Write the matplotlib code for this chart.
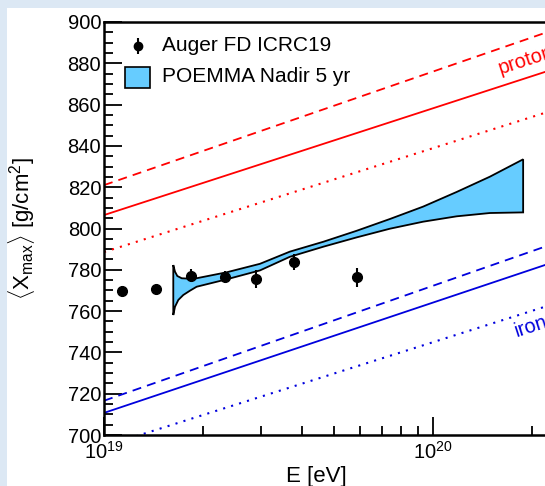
import numpy as np
import matplotlib
matplotlib.use("Agg")
import matplotlib.pyplot as plt
from matplotlib.patches import Rectangle
from matplotlib.ticker import MultipleLocator, FixedLocator, NullFormatter

plt.rcParams['font.family'] = ['Liberation Sans', 'DejaVu Sans']
plt.rcParams['mathtext.fontset'] = 'custom'
plt.rcParams['mathtext.rm'] = 'Liberation Sans'
plt.rcParams['mathtext.it'] = 'Liberation Sans'

#---------DATA----------
# Auger FD ICRC19 points (lg E, <Xmax>, error)
auger_lgE = [19.054, 19.158, 19.264, 19.369, 19.463, 19.579, 19.768]
auger_xmax = [769.9, 770.6, 777.1, 776.4, 775.7, 783.8, 776.4]
auger_err = [2.4, 2.2, 3.2, 2.8, 4.4, 4.0, 4.7]

# POEMMA Nadir 5 yr band edges
band_hi_lgE = [19.2106, 19.2158, 19.2228, 19.2362, 19.2716, 19.373, 19.474,
               19.565, 19.667, 19.768, 19.869, 19.970, 20.072, 20.173, 20.274]
band_hi = [782.3, 779.1, 777.0, 775.9, 775.6, 778.8, 782.9,
           788.8, 793.6, 798.9, 804.6, 810.6, 817.7, 825.1, 833.5]
band_lo_lgE = [19.2106, 19.2158, 19.2259, 19.2410, 19.2614, 19.2816, 19.373,
               19.474, 19.565, 19.667, 19.768, 19.869, 19.970, 20.072, 20.173, 20.274]
band_lo = [758.1, 762.1, 765.4, 767.8, 769.9, 771.8, 775.4,
           779.7, 786.3, 791.2, 795.7, 799.9, 803.3, 805.9, 807.5, 807.8]

# model lines: value at 10^19 eV and at 10^20.34 eV
line_lgE = [19.0, 20.34]
proton_solid = [806.5, 875.8]
proton_dashed = [821.0, 894.7]
proton_dotted = [788.6, 856.0]
iron_solid = [710.7, 782.3]
iron_dashed = [716.6, 791.2]
iron_dotted = [694.5, 762.1]

yticks = [700, 720, 740, 760, 780, 800, 820, 840, 860, 880, 900]

#---------PLOT----------
W, H = 545, 486
fig = plt.figure(figsize=(W/100., H/100.), dpi=100, facecolor="#dce8f4")
fig.patches.append(Rectangle((7./W, 0), 1, 1 - 8./H, transform=fig.transFigure,
                             facecolor="white", edgecolor="none", zorder=-10))

x0, x1 = 104, 104 + 1.5*329
y0, y1 = 435, 22
ax = fig.add_axes([x0/W, 1 - y0/H, (x1 - x0)/W, (y0 - y1)/H])
ax.set_facecolor("white")

E = lambda lg: 10**np.array(lg)

ax.plot(E(line_lgE), proton_solid, "-", color="red", lw=1.3)
ax.plot(E(line_lgE), proton_dashed, "--", color="red", lw=1.3, dashes=(5, 3.4))
ax.plot(E(line_lgE), proton_dotted, ":", color="red", lw=1.5, dashes=(1, 3))
ax.plot(E(line_lgE), iron_solid, "-", color="#0000dd", lw=1.3)
ax.plot(E(line_lgE), iron_dashed, "--", color="#0000dd", lw=1.3, dashes=(5, 3.4))
ax.plot(E(line_lgE), iron_dotted, ":", color="#0000dd", lw=1.5, dashes=(1, 3))

bx = np.concatenate([E(band_hi_lgE), E(band_lo_lgE)[::-1]])
by = np.concatenate([band_hi, band_lo[::-1]])
ax.fill(bx, by, facecolor="#66ccff", edgecolor="black", lw=1.3, zorder=3)

ax.errorbar(E(auger_lgE), auger_xmax, yerr=auger_err, fmt="o", color="black",
            ms=7, elinewidth=1.5, capsize=0, zorder=4)

ax.text(E(20.204), 874.5, "proton", color="red", fontsize=14.5, rotation=18,
        ha="left", va="baseline", rotation_mode="anchor")
ax.text(E(20.254), 747.6, "iron", color="#0000dd", fontsize=14.5, rotation=18,
        ha="left", va="baseline", rotation_mode="anchor")

ax.set_xscale("log")
ax.set_xlim(1e19, 10**20.5)
ax.set_ylim(700, 900)
ax.set_yticks(yticks)
ax.yaxis.set_minor_locator(MultipleLocator(5))
ax.xaxis.set_major_locator(FixedLocator([1e19, 1e20]))
ax.xaxis.set_minor_locator(FixedLocator([k*1e19 for k in range(2, 10)] + [2e20, 3e20]))
ax.xaxis.set_minor_formatter(NullFormatter())
ax.set_xticklabels([r"$10^{19}$", r"$10^{20}$"])

ax.tick_params(which="both", direction="in", width=1.3, labelsize=14.5)
ax.tick_params(which="major", length=13)
ax.tick_params(which="minor", length=6.5)
ax.tick_params(axis="y", pad=2)
ax.tick_params(axis="x", pad=4)
for s in ax.spines.values():
    s.set_linewidth(1.8)

ax.set_xlabel("E [eV]", fontsize=16)
ax.xaxis.set_label_coords(0.43, -0.075)
ax.set_ylabel(r"$\langle\mathrm{X}_{\mathrm{max}}\rangle$ [g/cm$^{2}$]", fontsize=16)
ax.yaxis.set_label_coords(-0.135, 0.5)

# legend
ax.errorbar([E(19.103)], [888.4], yerr=[4.0], fmt="o", color="black", ms=6,
            elinewidth=1.5, capsize=0, zorder=5)
ax.text(E(19.176), 888.4, "Auger FD ICRC19", fontsize=15, va="center", ha="left")
ax.add_patch(Rectangle((E(19.064), 868.2), E(19.14) - E(19.064), 10.2,
                       facecolor="#66ccff", edgecolor="black", lw=1.2, zorder=5))
ax.text(E(19.176), 873.4, "POEMMA Nadir 5 yr", fontsize=15, va="center", ha="left")

fig.savefig("out.png", dpi=100, facecolor=fig.get_facecolor())
